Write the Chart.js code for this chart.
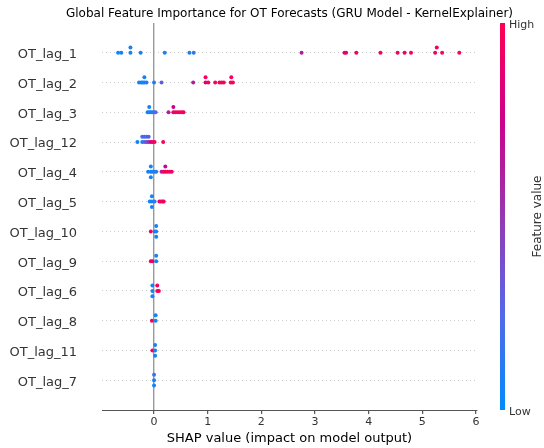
<!DOCTYPE html>
<html>
<head>
<meta charset="utf-8">
<script src="https://cdn.jsdelivr.net/npm/chart.js@4.4.0/dist/chart.umd.min.js"></script>
<style>
  html, body { margin: 0; padding: 0; background: #fff; }
</style>
</head>
<body>
<canvas id="shapChart" width="544" height="448"></canvas>
<script>
// features, top to bottom as plotted
var featureNames = ['OT_lag_1', 'OT_lag_2', 'OT_lag_3', 'OT_lag_12', 'OT_lag_4', 'OT_lag_5',
                    'OT_lag_10', 'OT_lag_9', 'OT_lag_6', 'OT_lag_8', 'OT_lag_11', 'OT_lag_7'];
var xTicks = [0, 1, 2, 3, 4, 5, 6];

// SHAP values and normalised feature values (0 = low, 1 = high) per feature
var lag1Shap = [-0.67, -0.61, -0.44, -0.44, -0.25, 0.20, 0.66, 0.74, 2.75, 3.55, 3.58, 3.77, 4.22, 4.54, 4.67, 4.79, 5.24, 5.27, 5.37, 5.69];
var lag1Feat = [0.05, 0.05, 0.06, 0.08, 0.08, 0.1, 0.1, 0.12, 0.62, 0.85, 0.88, 0.95, 0.95, 0.95, 0.95, 0.95, 0.95, 0.97, 0.97, 1];
var lag2Shap = [-0.28, -0.24, -0.21, -0.18, -0.18, -0.14, 0.0, 0.14, 0.73, 0.96, 0.96, 1.01, 1.14, 1.22, 1.26, 1.30, 1.43, 1.44, 1.47];
var lag2Feat = [0.05, 0.05, 0.06, 0.08, 0.06, 0.1, 0.1, 0.3, 0.62, 0.85, 0.95, 0.95, 0.95, 0.95, 0.95, 0.95, 0.95, 0.95, 0.97];
var lag3Shap = [-0.12, -0.09, -0.09, -0.06, -0.03, 0.0, 0.03, 0.27, 0.36, 0.36, 0.40, 0.44, 0.48, 0.52, 0.55];
var lag3Feat = [0.05, 0.06, 0.06, 0.08, 0.1, 0.15, 0.25, 0.62, 0.9, 0.75, 0.95, 0.95, 0.95, 0.95, 0.95];
var lag12Shap = [-0.31, -0.22, -0.22, -0.18, -0.18, -0.14, -0.14, -0.10, -0.10, -0.06, -0.03, 0.01, 0.17];
var lag12Feat = [0.05, 0.08, 0.2, 0.25, 0.3, 0.4, 0.15, 0.55, 0.3, 0.8, 0.9, 0.95, 0.95];
var lag4Shap = [-0.11, -0.06, -0.06, -0.06, -0.03, 0.01, 0.04, 0.14, 0.18, 0.21, 0.21, 0.25, 0.29, 0.33];
var lag4Feat = [0.05, 0.06, 0.06, 0.06, 0.08, 0.1, 0.1, 0.62, 0.9, 0.95, 0.72, 0.95, 0.95, 0.95];
var lag5Shap = [-0.08, -0.04, -0.04, -0.04, 0.01, 0.10, 0.13, 0.16, 0.18];
var lag5Feat = [0.05, 0.06, 0.06, 0.06, 0.1, 0.9, 0.95, 0.95, 0.95];
var lag10Shap = [-0.06, 0.01, 0.04, 0.04, 0.04];
var lag10Feat = [0.95, 0.08, 0.06, 0.06, 0.06];
var lag9Shap = [-0.06, -0.03, 0.04, 0.04];
var lag9Feat = [0.95, 0.9, 0.06, 0.06];
var lag6Shap = [-0.03, -0.03, -0.03, 0.06, 0.06, 0.09];
var lag6Feat = [0.06, 0.06, 0.06, 0.95, 0.95, 0.95];
var lag8Shap = [-0.04, 0.03, 0.03];
var lag8Feat = [0.95, 0.06, 0.06];
var lag11Shap = [-0.03, 0.02, 0.02, 0.02];
var lag11Feat = [0.95, 0.06, 0.06, 0.06];
var lag7Shap = [0.0, 0.0, 0.0];
var lag7Feat = [0.06, 0.2, 0.06];

var rows = [
    [lag1Shap, lag1Feat], [lag2Shap, lag2Feat], [lag3Shap, lag3Feat], [lag12Shap, lag12Feat],
    [lag4Shap, lag4Feat], [lag5Shap, lag5Feat], [lag10Shap, lag10Feat], [lag9Shap, lag9Feat],
    [lag6Shap, lag6Feat], [lag8Shap, lag8Feat], [lag11Shap, lag11Feat], [lag7Shap, lag7Feat]
];

// blue -> purple -> red, like shap's red_blue map
var cmapStops = [
    [0, [0, 139, 251]],
    [0.25, [84, 104, 232]],
    [0.5, [150, 55, 178]],
    [0.75, [205, 0, 140]],
    [1, [255, 0, 82]]
];

function shapColor(t) {
    for (var i = 1; i < cmapStops.length; i++) {
        if (t <= cmapStops[i][0]) {
            var a = cmapStops[i - 1], b = cmapStops[i];
            var f = (t - a[0]) / (b[0] - a[0]);
            var c = a[1].map(function (v, k) { return Math.round(v + (b[1][k] - v) * f); });
            return 'rgb(' + c.join(',') + ')';
        }
    }
    return 'rgb(255,0,82)';
}

// beeswarm offsets, same binning idea as shap's summary plot
function swarm(vals) {
    var lo = Math.min.apply(null, vals), hi = Math.max.apply(null, vals);
    var nbins = 100;
    var quant = vals.map(function (v) { return Math.round(nbins * (v - lo) / (hi - lo + 1e-8)); });
    var order = vals.map(function (v, i) { return i; }).sort(function (a, b) { return quant[a] - quant[b]; });
    var ys = vals.map(function () { return 0; });
    var layer = 0, last = -1;
    order.forEach(function (i) {
        if (quant[i] !== last) layer = 0;
        ys[i] = Math.ceil(layer / 2) * ((layer % 2) * 2 - 1);
        layer++;
        last = quant[i];
    });
    var m = Math.max.apply(null, ys.map(function (y) { return y + 1; }));
    return ys.map(function (y) { return y * 0.9 * (0.4 / m); });
}

var points = [], colors = [];
rows.forEach(function (row, r) {
    var base = featureNames.length - 1 - r;
    var offs = swarm(row[0]);
    row[0].forEach(function (v, i) {
        points.push({ x: v, y: base + offs[i] });
        colors.push(shapColor(row[1][i]));
    });
});

var fontFamily = "'DejaVu Sans', sans-serif";

var shapExtras = {
    id: 'shapExtras',
    afterDraw: function (chart) {
        var ctx = chart.ctx, area = chart.chartArea;
        ctx.save();
        // title
        ctx.fillStyle = '#000';
        ctx.font = '12px ' + fontFamily;
        ctx.textAlign = 'center';
        ctx.textBaseline = 'middle';
        ctx.fillText('Global Feature Importance for OT Forecasts (GRU Model - KernelExplainer)',
                     (area.left + area.right) / 2, area.top - 9);
        // colour bar
        var bx = area.right + 23, bw = 5;
        var grad = ctx.createLinearGradient(0, area.bottom, 0, area.top);
        cmapStops.forEach(function (s) { grad.addColorStop(s[0], 'rgb(' + s[1].join(',') + ')'); });
        ctx.fillStyle = grad;
        ctx.fillRect(bx, area.top, bw, area.bottom - area.top);
        ctx.fillStyle = '#333';
        ctx.font = '11px ' + fontFamily;
        ctx.textAlign = 'left';
        ctx.fillText('High', bx + bw + 4, area.top + 2);
        ctx.fillText('Low', bx + bw + 4, area.bottom + 2);
        ctx.font = '12px ' + fontFamily;
        ctx.translate(538, (area.top + area.bottom) / 2);
        ctx.rotate(-Math.PI / 2);
        ctx.textAlign = 'center';
        ctx.fillText('Feature value', 0, 0);
        ctx.restore();
    }
};

var ctx = document.getElementById('shapChart').getContext('2d');
var shapChart = new Chart(ctx, {
    type: 'scatter',
    data: {
        datasets: [{
            label: 'SHAP',
            data: points,
            pointBackgroundColor: colors,
            pointBorderWidth: 0,
            pointRadius: 2,
            pointHoverRadius: 2
        }]
    },
    options: {
        responsive: false,
        animation: false,
        layout: {
            padding: { top: 23, right: 67, left: 0, bottom: 0 }
        },
        plugins: {
            legend: { display: false },
            tooltip: { enabled: false }
        },
        scales: {
            x: {
                type: 'linear',
                min: -0.97,
                max: 6.02,
                afterBuildTicks: function (scale) {
                    scale.ticks = xTicks.map(function (v) { return { value: v }; });
                },
                afterFit: function (scale) { scale.height = 38; },
                grid: {
                    color: function (c) { return c.tick && c.tick.value === 0 ? '#999999' : 'rgba(0,0,0,0)'; },
                    lineWidth: 1.4,
                    tickColor: '#333',
                    tickLength: 4,
                    tickWidth: 1
                },
                border: { display: true, color: '#555', width: 1 },
                ticks: {
                    color: '#333',
                    padding: 2,
                    font: { family: fontFamily, size: 11 }
                },
                title: {
                    display: true,
                    text: 'SHAP value (impact on model output)',
                    color: '#000',
                    padding: { top: 0, bottom: 2 },
                    font: { family: fontFamily, size: 13 }
                }
            },
            y: {
                type: 'linear',
                min: -1,
                max: 12,
                afterBuildTicks: function (scale) {
                    scale.ticks = featureNames.map(function (n, i) { return { value: i }; });
                },
                afterFit: function (scale) { scale.width = 102; },
                grid: {
                    color: '#cccccc',
                    lineWidth: 1,
                    drawTicks: true,
                    tickLength: 25,
                    tickColor: 'rgba(0,0,0,0)'
                },
                border: { display: false, dash: [1, 3] },
                ticks: {
                    autoSkip: false,
                    color: '#333',
                    padding: 0,
                    labelOffset: 2,
                    font: { family: fontFamily, size: 13 },
                    callback: function (value) {
                        return featureNames[featureNames.length - 1 - value];
                    }
                }
            }
        }
    },
    plugins: [shapExtras]
});
</script>
</body>
</html>
